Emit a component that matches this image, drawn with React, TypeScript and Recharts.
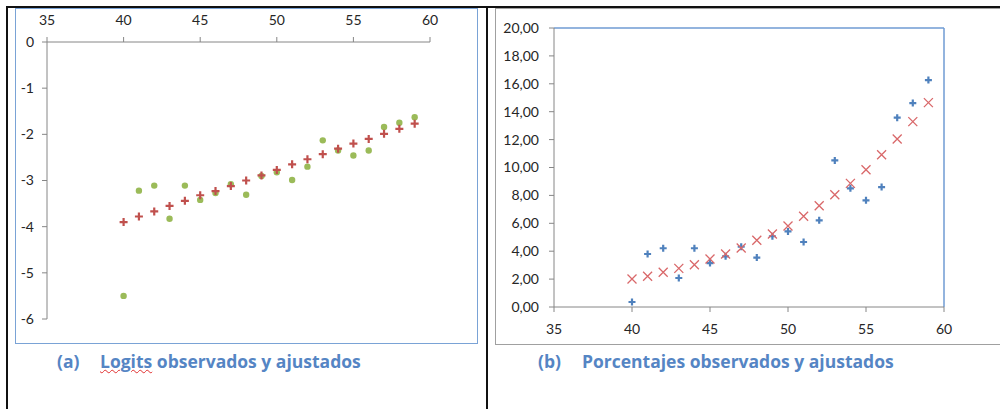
import { ScatterChart, Scatter, XAxis, YAxis, ReferenceLine } from 'recharts';

// edades (eje x) y valores
const ages = [40, 41, 42, 43, 44, 45, 46, 47, 48, 49, 50, 51, 52, 53, 54, 55, 56, 57, 58, 59];
const logitObs = [-5.5, -3.22, -3.11, -3.83, -3.11, -3.42, -3.27, -3.08, -3.31, -2.9, -2.82, -2.99, -2.7, -2.13, -2.35, -2.46, -2.35, -1.84, -1.75, -1.63];
const logitFit = [-3.9, -3.78, -3.67, -3.55, -3.44, -3.32, -3.23, -3.12, -3.0, -2.89, -2.77, -2.65, -2.54, -2.43, -2.31, -2.2, -2.1, -1.99, -1.88, -1.77];
const pctObs = [0.36, 3.8, 4.21, 2.08, 4.21, 3.15, 3.63, 4.32, 3.54, 5.07, 5.42, 4.66, 6.21, 10.51, 8.51, 7.65, 8.6, 13.57, 14.62, 16.27];
const pctFit = [2.01, 2.2, 2.49, 2.77, 3.03, 3.44, 3.8, 4.23, 4.78, 5.23, 5.81, 6.5, 7.26, 8.05, 8.86, 9.84, 10.92, 12.04, 13.29, 14.65];

const xTicks = [35, 40, 45, 50, 55, 60];
const logitTicks = [-6, -5, -4, -3, -2, -1, 0];
const pctTicks = [0, 2, 4, 6, 8, 10, 12, 14, 16, 18, 20];

const toPoints = (ys: number[]) => ages.map((x, i) => ({ x, y: ys[i] }));

const FONT = 'Lato, "Open Sans", sans-serif';
const AXIS = '#868686';
const tick = { fontSize: 14, fill: '#262626', fontFamily: FONT };

const GreenDot = (p: any) => <circle cx={p.cx} cy={p.cy} r={3.2} fill="#9bbb59" />;
const RedPlus = (p: any) => (
  <path
    d={`M${p.cx - 4},${p.cy}H${p.cx + 4}M${p.cx},${p.cy - 4}V${p.cy + 4}`}
    stroke="#c0504d"
    strokeWidth={2.2}
  />
);
const BluePlus = (p: any) => (
  <path
    d={`M${p.cx - 3.5},${p.cy}H${p.cx + 3.5}M${p.cx},${p.cy - 3.5}V${p.cy + 3.5}`}
    stroke="#4f81bd"
    strokeWidth={2.2}
  />
);
const RedCross = (p: any) => (
  <path
    d={`M${p.cx - 4.5},${p.cy - 4.5}L${p.cx + 4.5},${p.cy + 4.5}M${p.cx - 4.5},${p.cy + 4.5}L${p.cx + 4.5},${p.cy - 4.5}`}
    stroke="#d9686a"
    strokeWidth={1.3}
    fill="none"
  />
);

const titleStyle: React.CSSProperties = {
  position: 'absolute',
  top: 349,
  fontFamily: '"Open Sans", Lato, sans-serif',
  fontWeight: 700,
  fontSize: 17.5,
  color: '#5585c4',
  whiteSpace: 'nowrap',
};

export default function App() {
  return (
    <div style={{ position: 'absolute', left: 0, top: 0, width: 1000, height: 409, background: '#fff', overflow: 'hidden' }}>
      {/* marco negro */}
      <div style={{ position: 'absolute', left: 6, top: 6, width: 994, height: 2, background: '#111' }} />
      <div style={{ position: 'absolute', left: 6, top: 6, width: 1.5, height: 403, background: '#111' }} />
      <div style={{ position: 'absolute', left: 486, top: 6, width: 1.5, height: 403, background: '#111' }} />

      {/* (a) logits */}
      <div style={{ position: 'absolute', left: 15, top: 8, width: 463, height: 336, boxSizing: 'border-box', border: '1.5px solid #7aa3d6' }} />
      <div style={{ position: 'absolute', left: 15, top: 8 }}>
        <ScatterChart width={463} height={336} margin={{ top: 14, right: 48, bottom: 25, left: 2 }}>
          <XAxis
            type="number"
            dataKey="x"
            orientation="top"
            domain={[35, 60]}
            ticks={xTicks}
            height={20}
            tickSize={5}
            tickMargin={12}
            stroke={AXIS}
            tick={tick}
          />
          <YAxis
            type="number"
            dataKey="y"
            domain={[-6, 0]}
            ticks={logitTicks}
            width={30}
            tickSize={5}
            tickMargin={8}
            stroke={AXIS}
            tick={tick}
          />
          <Scatter data={toPoints(logitObs)} shape={GreenDot} isAnimationActive={false} />
          <Scatter data={toPoints(logitFit)} shape={RedPlus} isAnimationActive={false} />
        </ScatterChart>
      </div>
      <div style={{ ...titleStyle, left: 57 }}>(a)</div>
      <div style={{ ...titleStyle, left: 100 }}>
        <span style={{ textDecoration: 'underline wavy #e03030', textDecorationThickness: 1 }}>Logits</span> observados y ajustados
      </div>

      {/* (b) porcentajes */}
      <div style={{ position: 'absolute', left: 495, top: 8, width: 520, height: 337, boxSizing: 'border-box', border: '1.5px solid #a0a0a0' }} />
      <div style={{ position: 'absolute', left: 495, top: 8 }}>
        <ScatterChart width={505} height={337} margin={{ top: 20, right: 56, bottom: 8, left: 4 }}>
          <XAxis
            type="number"
            dataKey="x"
            domain={[35, 60]}
            ticks={xTicks}
            height={30}
            tickSize={5}
            tickMargin={12}
            stroke={AXIS}
            tick={tick}
          />
          <YAxis
            type="number"
            dataKey="y"
            domain={[0, 20]}
            ticks={pctTicks}
            width={55}
            tickSize={5}
            tickMargin={10}
            stroke={AXIS}
            tick={tick}
            tickFormatter={(v: number) => v.toFixed(2).replace('.', ',')}
          />
          <ReferenceLine y={20} stroke="#6f9bd3" strokeWidth={1.5} />
          <ReferenceLine x={60} stroke="#6f9bd3" strokeWidth={1.5} />
          <Scatter data={toPoints(pctObs)} shape={BluePlus} isAnimationActive={false} />
          <Scatter data={toPoints(pctFit)} shape={RedCross} isAnimationActive={false} />
        </ScatterChart>
      </div>
      <div style={{ ...titleStyle, left: 538 }}>(b)</div>
      <div style={{ ...titleStyle, left: 582 }}>Porcentajes observados y ajustados</div>
    </div>
  );
}
